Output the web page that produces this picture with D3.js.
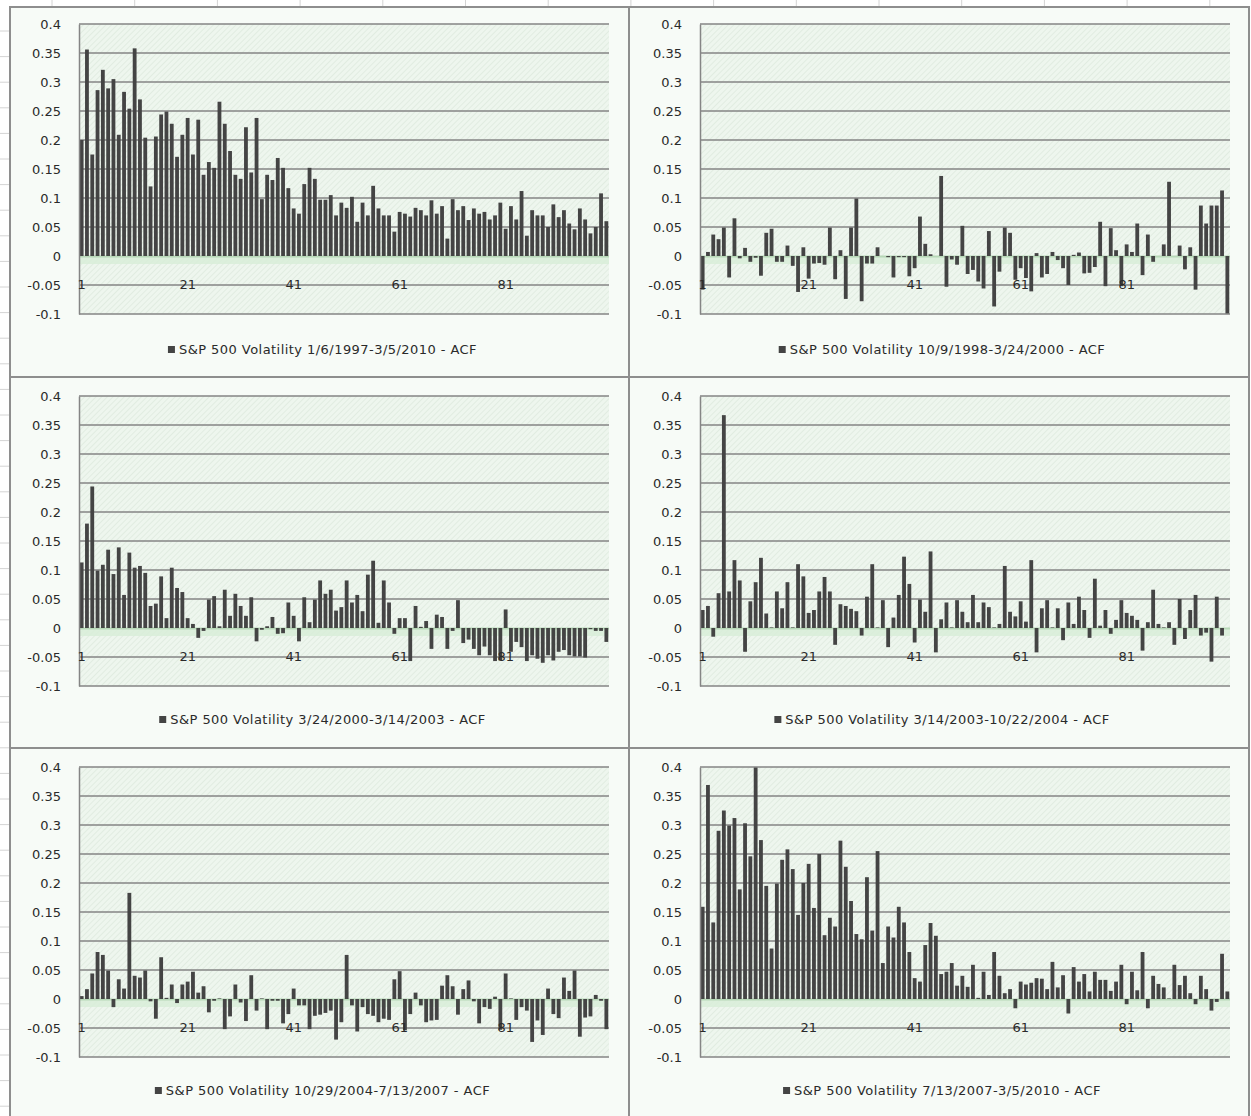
<!DOCTYPE html>
<html>
<head>
<meta charset="utf-8">
<script src="https://cdn.jsdelivr.net/npm/d3@7"></script>
<style>
  html, body { margin: 0; padding: 0; background: #ffffff; }
  svg { display: block; }
  text { font-family: "DejaVu Sans", Verdana, sans-serif; }
</style>
</head>
<body>
<svg id="chart" width="1251" height="1116"></svg>
<script>
// ---- data -------------------------------------------------------------
const lags = d3.range(1, 101);
const yTicks = [-0.1, -0.05, 0, 0.05, 0.1, 0.15, 0.2, 0.25, 0.3, 0.35, 0.4];
const xTickLabels = [1, 21, 41, 61, 81];

const titles = [
  "S&P 500 Volatility 1/6/1997-3/5/2010 - ACF",
  "S&P 500 Volatility 10/9/1998-3/24/2000 - ACF",
  "S&P 500 Volatility 3/24/2000-3/14/2003 - ACF",
  "S&P 500 Volatility 3/14/2003-10/22/2004 - ACF",
  "S&P 500 Volatility 10/29/2004-7/13/2007 - ACF",
  "S&P 500 Volatility 7/13/2007-3/5/2010 - ACF"
];

const acf1997to2010 = [
  0.200, 0.356, 0.175, 0.286, 0.321, 0.289, 0.305, 0.209, 0.283, 0.254,
  0.358, 0.270, 0.204, 0.120, 0.206, 0.244, 0.249, 0.228, 0.171, 0.209,
  0.238, 0.175, 0.235, 0.140, 0.162, 0.152, 0.266, 0.228, 0.181, 0.140,
  0.133, 0.222, 0.144, 0.238, 0.098, 0.140, 0.131, 0.169, 0.152, 0.117,
  0.082, 0.073, 0.124, 0.152, 0.133, 0.097, 0.097, 0.105, 0.070, 0.092,
  0.083, 0.102, 0.059, 0.092, 0.070, 0.121, 0.082, 0.070, 0.070, 0.042,
  0.076, 0.073, 0.068, 0.083, 0.079, 0.070, 0.096, 0.073, 0.086, 0.030,
  0.098, 0.079, 0.086, 0.062, 0.082, 0.073, 0.076, 0.063, 0.070, 0.092,
  0.047, 0.086, 0.063, 0.112, 0.035, 0.079, 0.070, 0.070, 0.050, 0.089,
  0.067, 0.079, 0.056, 0.046, 0.082, 0.063, 0.039, 0.050, 0.108, 0.060
];

const acf1998to2000 = [
  -0.058, 0.007, 0.037, 0.029, 0.049, -0.037, 0.065, -0.004, 0.014, -0.010,
  -0.003, -0.034, 0.040, 0.047, -0.010, -0.010, 0.018, -0.017, -0.062, 0.015,
  -0.039, -0.013, -0.012, -0.015, 0.049, -0.040, 0.010, -0.074, 0.049, 0.099,
  -0.078, -0.013, -0.013, 0.015, 0.000, -0.002, -0.037, -0.002, -0.002, -0.035,
  -0.021, 0.068, 0.021, 0.003, 0.000, 0.138, -0.053, -0.006, -0.015, 0.052,
  -0.031, -0.024, -0.044, -0.056, 0.043, -0.087, -0.027, 0.049, 0.040, -0.041,
  -0.021, -0.038, -0.061, 0.005, -0.037, -0.031, 0.007, -0.007, -0.021, -0.050,
  0.002, 0.006, -0.030, -0.029, -0.019, 0.059, -0.052, 0.048, 0.010, -0.052,
  0.020, 0.007, 0.056, -0.033, 0.037, -0.010, 0.000, 0.020, 0.128, 0.000,
  0.018, -0.023, 0.015, -0.058, 0.087, 0.056, 0.087, 0.087, 0.113, -0.099
];

const acf2000to2003 = [
  0.113, 0.180, 0.244, 0.099, 0.109, 0.135, 0.093, 0.139, 0.057, 0.130,
  0.104, 0.107, 0.095, 0.038, 0.042, 0.089, 0.017, 0.104, 0.069, 0.062,
  0.017, 0.007, -0.017, -0.005, 0.049, 0.055, 0.003, 0.066, 0.021, 0.059,
  0.038, 0.021, 0.053, -0.023, -0.003, 0.003, 0.019, -0.010, -0.009, 0.044,
  0.021, -0.023, 0.053, 0.010, 0.049, 0.082, 0.059, 0.066, 0.030, 0.036,
  0.082, 0.044, 0.057, 0.029, 0.092, 0.116, 0.009, 0.082, 0.044, -0.010,
  0.017, 0.017, -0.057, 0.038, 0.002, 0.012, -0.036, 0.023, 0.019, -0.036,
  -0.005, 0.048, -0.026, -0.020, -0.036, -0.047, -0.032, -0.047, -0.057, -0.056,
  0.032, -0.041, -0.024, -0.033, -0.057, -0.047, -0.053, -0.060, -0.047, -0.056,
  -0.041, -0.038, -0.047, -0.049, -0.049, -0.051, -0.002, -0.005, -0.005, -0.024
];

const acf2003to2004 = [
  0.031, 0.038, -0.015, 0.060, 0.367, 0.063, 0.117, 0.082, -0.041, 0.046,
  0.079, 0.121, 0.025, 0.001, 0.063, 0.034, 0.079, 0.001, 0.110, 0.089,
  0.026, 0.031, 0.063, 0.088, 0.063, -0.029, 0.041, 0.038, 0.033, 0.029,
  -0.013, 0.054, 0.110, 0.001, 0.048, -0.033, 0.018, 0.057, 0.123, 0.076,
  -0.025, 0.049, 0.028, 0.132, -0.042, 0.015, 0.044, 0.001, 0.048, 0.028,
  0.010, 0.057, 0.010, 0.044, 0.036, 0.001, 0.007, 0.107, 0.028, 0.020,
  0.046, 0.011, 0.117, -0.042, 0.034, 0.048, 0.001, 0.034, -0.021, 0.044,
  0.007, 0.054, 0.031, -0.017, 0.085, 0.004, 0.031, -0.010, 0.014, 0.048,
  0.026, 0.021, 0.014, -0.039, 0.010, 0.066, 0.007, 0.001, 0.010, -0.029,
  0.050, -0.019, 0.031, 0.057, -0.013, -0.008, -0.058, 0.054, -0.013, 0.000
];

const acf2004to2007 = [
  0.005, 0.017, 0.044, 0.081, 0.076, 0.049, -0.014, 0.034, 0.018, 0.183,
  0.040, 0.037, 0.049, -0.004, -0.034, 0.072, 0.002, 0.025, -0.007, 0.025,
  0.030, 0.047, 0.011, 0.022, -0.023, -0.003, 0.001, -0.052, -0.030, 0.025,
  -0.006, -0.038, 0.041, -0.020, 0.001, -0.052, -0.003, -0.003, -0.042, -0.026,
  0.018, -0.011, -0.011, -0.052, -0.029, -0.027, -0.024, -0.020, -0.070, -0.040,
  0.076, -0.011, -0.056, -0.014, -0.026, -0.029, -0.040, -0.034, -0.036, 0.034,
  0.048, -0.054, -0.026, 0.011, -0.011, -0.040, -0.037, -0.036, 0.023, 0.041,
  0.022, -0.027, 0.017, 0.032, -0.004, -0.042, -0.014, -0.017, 0.004, -0.053,
  0.044, 0.001, -0.036, -0.014, -0.020, -0.074, -0.037, -0.062, 0.018, -0.026,
  -0.033, 0.037, 0.014, 0.049, -0.065, -0.032, -0.030, 0.007, -0.003, -0.052
];

const acf2007to2010 = [
  0.159, 0.369, 0.132, 0.290, 0.325, 0.299, 0.312, 0.189, 0.303, 0.246,
  0.399, 0.274, 0.195, 0.087, 0.199, 0.240, 0.258, 0.224, 0.145, 0.200,
  0.233, 0.157, 0.250, 0.110, 0.140, 0.125, 0.273, 0.228, 0.169, 0.112,
  0.103, 0.210, 0.118, 0.255, 0.062, 0.125, 0.106, 0.159, 0.132, 0.081,
  0.036, 0.030, 0.093, 0.131, 0.109, 0.043, 0.047, 0.062, 0.023, 0.040,
  0.021, 0.059, 0.002, 0.047, 0.007, 0.081, 0.040, 0.010, 0.017, -0.016,
  0.030, 0.025, 0.028, 0.036, 0.035, 0.017, 0.064, 0.020, 0.041, -0.025,
  0.055, 0.030, 0.043, 0.013, 0.047, 0.033, 0.033, 0.014, 0.030, 0.059,
  -0.009, 0.047, 0.015, 0.081, -0.016, 0.040, 0.026, 0.020, 0.001, 0.059,
  0.024, 0.040, 0.010, -0.009, 0.040, 0.017, -0.020, -0.005, 0.078, 0.013
];

const seriesList = [acf1997to2010, acf1998to2000, acf2000to2003,
                    acf2003to2004, acf2004to2007, acf2007to2010];

// ---- layout -----------------------------------------------------------
const W = 1251, H = 1116;
const cols = [{ x: 10, w: 619, plotLeft: 69 }, { x: 629, w: 620, plotLeft: 71 }];
const rows = [{ y: 7, h: 370, plotTop: 17 }, { y: 377, h: 371, plotTop: 19 }, { y: 748, h: 380, plotTop: 19 }];
const plotW = 530, plotH = 290;
const labelFont = 13;
const textColor = "#2a2a2a";

const svg = d3.select("#chart");
const defs = svg.append("defs");

// diagonal light hatch used as the plot-area fill
const pat = defs.append("pattern")
  .attr("id", "hatch")
  .attr("width", 4).attr("height", 4)
  .attr("patternUnits", "userSpaceOnUse")
  .attr("patternTransform", "rotate(45)");
pat.append("rect").attr("width", 4).attr("height", 4).attr("fill", "#eef6ee");
pat.append("line").attr("x1", 0).attr("y1", 0).attr("x2", 0).attr("y2", 4)
  .attr("stroke", "#dbe7db").attr("stroke-width", 1.3);

// worksheet cell lines peeking out around the charts
const sheet = svg.append("g");
for (let x = 52; x < W; x += 82.7) {
  sheet.append("line").attr("x1", x).attr("x2", x).attr("y1", 0).attr("y2", 7)
    .attr("stroke", "#d4d4d4").attr("stroke-width", 1);
}
for (let y = 31; y < H; y += 25.6) {
  sheet.append("line").attr("x1", 0).attr("x2", 10).attr("y1", y).attr("y2", y)
    .attr("stroke", "#d4d4d4").attr("stroke-width", 1);
}

const fmt = v => String(Math.round(v * 100) / 100);

seriesList.forEach((values, idx) => {
  const col = cols[idx % 2], row = rows[Math.floor(idx / 2)];
  const g = svg.append("g");

  // chart frame
  g.append("rect")
    .attr("x", col.x).attr("y", row.y)
    .attr("width", col.w).attr("height", row.h)
    .attr("fill", "#f7fbf7")
    .attr("stroke", "#8e8e8e").attr("stroke-width", 2);

  const left = col.x + col.plotLeft;
  const top = row.y + row.plotTop;

  const x = d3.scaleBand().domain(lags)
    .range([left, left + plotW])
    .paddingInner(0.28).paddingOuter(0.14);
  const y = d3.scaleLinear().domain([-0.1, 0.4]).range([top + plotH, top]);

  // plot area
  g.append("rect")
    .attr("x", left).attr("y", top)
    .attr("width", plotW).attr("height", plotH)
    .attr("fill", "url(#hatch)");

  // horizontal gridlines
  g.append("g").selectAll("line")
    .data(yTicks.filter(t => t !== 0))
    .join("line")
    .attr("x1", left).attr("x2", left + plotW)
    .attr("y1", d => y(d)).attr("y2", d => y(d))
    .attr("stroke", "#858585").attr("stroke-width", 1.5);

  // pale category-axis band at zero
  g.append("rect")
    .attr("x", left).attr("y", y(0))
    .attr("width", plotW).attr("height", 8)
    .attr("fill", "#d8edd8").attr("opacity", 0.85);
  g.append("line")
    .attr("x1", left).attr("x2", left + plotW)
    .attr("y1", y(0) + 0.5).attr("y2", y(0) + 0.5)
    .attr("stroke", "#b7d8b7").attr("stroke-width", 2);

  // ACF bars
  g.append("g").selectAll("rect")
    .data(values)
    .join("rect")
    .attr("x", (d, i) => x(lags[i]))
    .attr("width", x.bandwidth())
    .attr("y", d => y(Math.max(0, d)))
    .attr("height", d => Math.abs(y(d) - y(0)))
    .attr("fill", "#444444");

  // value axis
  const yAxis = d3.axisLeft(y).tickValues(yTicks).tickFormat(fmt)
    .tickSize(0).tickPadding(18);
  const ya = g.append("g").attr("transform", `translate(${left},0)`).call(yAxis);
  ya.select(".domain").attr("stroke", "#858585").attr("stroke-width", 1.5);
  ya.selectAll("text").attr("font-size", labelFont).attr("fill", textColor)
    .attr("font-family", "'DejaVu Sans', Verdana, sans-serif");

  // category labels sit just below the zero line
  g.append("g").selectAll("text")
    .data(xTickLabels)
    .join("text")
    .attr("x", d => x(d) + x.bandwidth() / 2)
    .attr("y", y(0) + 33)
    .attr("text-anchor", "middle")
    .attr("font-size", labelFont).attr("fill", textColor)
    .text(d => d);

  // legend
  const lg = g.append("g");
  lg.append("rect").attr("x", 0).attr("y", -4).attr("width", 7).attr("height", 7)
    .attr("fill", "#444444");
  const lt = lg.append("text").attr("x", 11).attr("y", 4)
    .attr("font-size", labelFont).attr("letter-spacing", 0.45).attr("fill", textColor)
    .text(titles[idx]);
  const tw = 11 + lt.node().getComputedTextLength();
  const cx = col.x + col.w / 2 + 3;
  lg.attr("transform", `translate(${cx - tw / 2},${row.y + 343})`);
});
</script>
</body>
</html>
